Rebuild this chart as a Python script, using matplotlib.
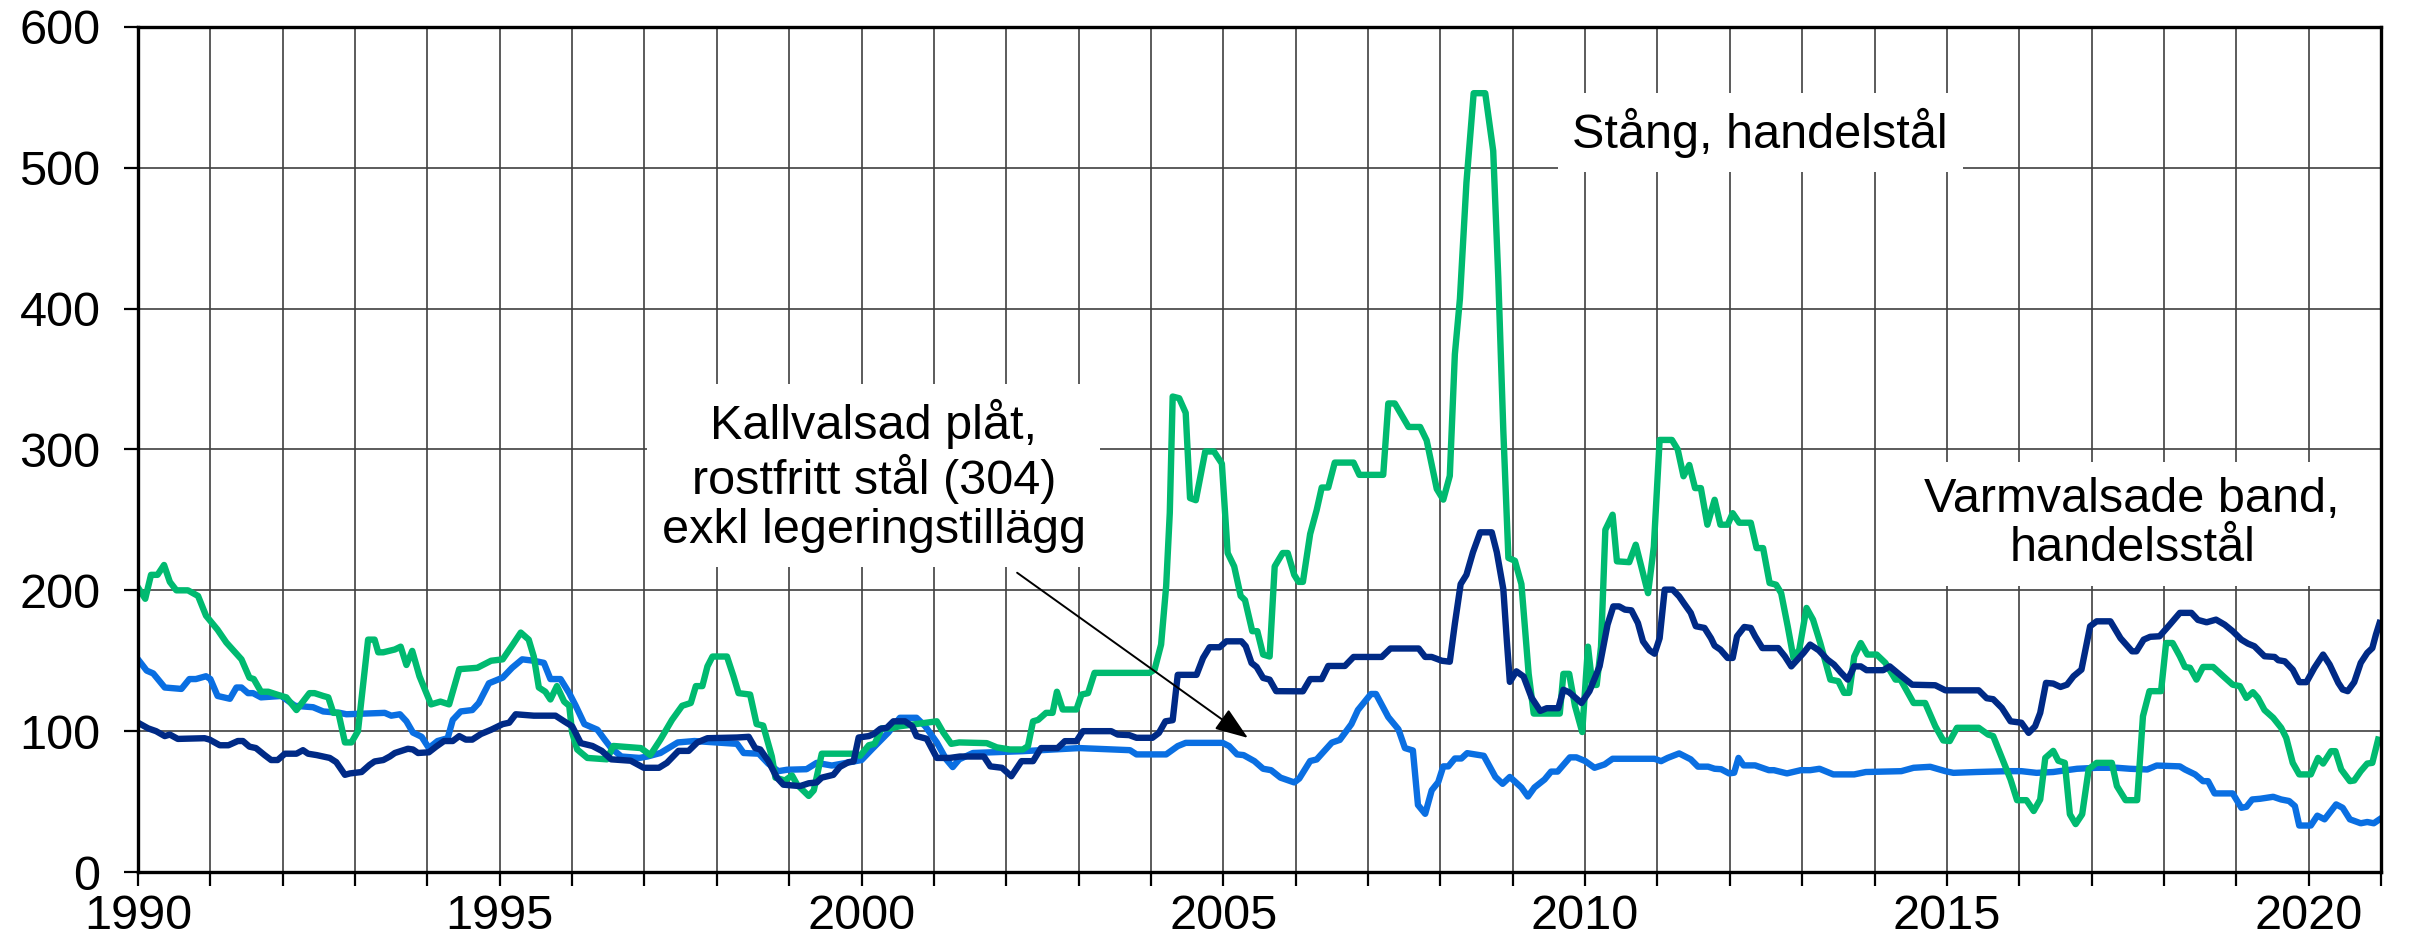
import matplotlib
matplotlib.use("Agg")
import matplotlib.pyplot as plt

plt.rcParams['font.family'] = ['Liberation Sans', 'DejaVu Sans']

# Stång, handelstål
stang_t = [1990.00, 1990.10, 1990.18, 1990.27, 1990.36, 1990.44, 1990.53, 1990.69, 1990.83, 1990.94,
           1991.10, 1991.22, 1991.43, 1991.54, 1991.60, 1991.70, 1991.80, 1991.98, 1992.05, 1992.19,
           1992.37, 1992.44, 1992.56, 1992.63, 1992.70, 1992.77, 1992.86, 1992.95, 1993.04, 1993.18,
           1993.27, 1993.32, 1993.39, 1993.55, 1993.63, 1993.71, 1993.79, 1993.89, 1994.05, 1994.18,
           1994.30, 1994.44, 1994.69, 1994.88, 1995.04, 1995.18, 1995.29, 1995.40, 1995.47, 1995.54,
           1995.63, 1995.70, 1995.79, 1995.89, 1995.96, 1996.00, 1996.07, 1996.21, 1996.48, 1996.57,
           1996.95, 1997.08, 1997.22, 1997.38, 1997.52, 1997.64, 1997.71, 1997.80, 1997.87, 1997.94,
           1998.14, 1998.23, 1998.30, 1998.46, 1998.55, 1998.64, 1998.76, 1998.81, 1998.94, 1999.04,
           1999.11, 1999.27, 1999.34, 1999.45, 1999.89, 1999.98, 2000.10, 2000.18, 2000.28, 2000.40,
           2000.53, 2001.04, 2001.13, 2001.24, 2001.35, 2001.73, 2001.87, 2002.05, 2002.23, 2002.30,
           2002.37, 2002.44, 2002.55, 2002.64, 2002.70, 2002.78, 2002.97, 2003.04, 2003.13, 2003.22,
           2003.98, 2004.05, 2004.14, 2004.21, 2004.26, 2004.30, 2004.39, 2004.48, 2004.54, 2004.62,
           2004.75, 2004.87, 2004.98, 2005.06, 2005.15, 2005.24, 2005.30, 2005.40, 2005.47, 2005.55,
           2005.64, 2005.71, 2005.82, 2005.89, 2005.98, 2006.04, 2006.10, 2006.20, 2006.29, 2006.36,
           2006.45, 2006.54, 2006.80, 2006.88, 2007.21, 2007.28, 2007.37, 2007.56, 2007.72, 2007.81,
           2007.95, 2008.04, 2008.13, 2008.20, 2008.27, 2008.36, 2008.46, 2008.62, 2008.73, 2008.80,
           2008.87, 2008.94, 2009.03, 2009.12, 2009.22, 2009.29, 2009.65, 2009.70, 2009.78, 2009.86,
           2009.96, 2010.04, 2010.10, 2010.16, 2010.22, 2010.28, 2010.38, 2010.44, 2010.61, 2010.70,
           2010.80, 2010.87, 2010.95, 2011.03, 2011.20, 2011.28, 2011.36, 2011.44, 2011.52, 2011.60,
           2011.69, 2011.79, 2011.87, 2011.97, 2012.04, 2012.13, 2012.29, 2012.37, 2012.46, 2012.55,
           2012.64, 2012.71, 2012.80, 2012.88, 2012.96, 2013.06, 2013.15, 2013.25, 2013.39, 2013.50,
           2013.58, 2013.65, 2013.72, 2013.81, 2013.90, 2014.03, 2014.15, 2014.29, 2014.36, 2014.54,
           2014.70, 2014.84, 2014.95, 2015.04, 2015.14, 2015.44, 2015.57, 2015.64, 2015.76, 2015.88,
           2015.97, 2016.10, 2016.20, 2016.29, 2016.36, 2016.47, 2016.54, 2016.63, 2016.70, 2016.78,
           2016.87, 2016.96, 2017.07, 2017.28, 2017.35, 2017.47, 2017.63, 2017.71, 2017.80, 2017.96,
           2018.03, 2018.12, 2018.22, 2018.29, 2018.36, 2018.45, 2018.54, 2018.68, 2018.82, 2018.95,
           2019.05, 2019.14, 2019.23, 2019.30, 2019.39, 2019.51, 2019.62, 2019.69, 2019.78, 2019.87,
           2020.03, 2020.13, 2020.20, 2020.31, 2020.37, 2020.45, 2020.57, 2020.63, 2020.72, 2020.81,
           2020.88, 2020.96]
stang_v = [202, 194, 211, 211, 218, 206, 200, 200, 196, 182,
           172, 163, 151, 138, 137, 128, 128, 125, 124, 115,
           127, 127, 125, 124, 113, 113, 92, 92, 100, 165,
           165, 156, 156, 158, 160, 147, 157, 139, 119, 121,
           119, 144, 145, 150, 151, 161.5, 170, 165, 153, 131,
           128, 122.5, 132, 121, 118, 99, 87, 81, 80, 89.5,
           88, 83, 94, 108, 118, 120, 132, 132, 146, 153,
           153, 139, 127, 126, 105, 104, 82, 67, 65, 68.5,
           62, 54, 58, 84, 84, 82.5, 90, 91, 102, 102,
           103.5, 107, 99, 91, 92, 91.5, 88.5, 87, 87, 89.4,
           107, 108, 113, 113, 128, 115.4, 115.4, 126, 127, 141.4,
           141.4, 143.7, 161.5, 203, 255, 337.6, 336.4, 326, 265.5, 264,
           298.6, 298.6, 290, 226.5, 217, 196, 193, 171, 171, 154.4,
           153, 217, 226.5, 226.5, 211, 206, 206, 240, 257, 273,
           273, 290.7, 290.7, 282, 282, 332.7, 332.7, 316, 316, 306.5,
           272, 264.4, 281.3, 367.6, 407, 489.5, 553, 553, 512, 422,
           313, 223, 221, 204.4, 140.7, 112.5, 112.5, 140.7, 140.7, 118,
           99.4, 160, 132.8, 132.8, 160, 243, 253.7, 220.6, 220, 232.4,
           212.3, 198, 231, 306.8, 306.8, 300, 281, 289, 272.6, 272.6,
           246.6, 264.3, 246.6, 246.6, 254.8, 248, 248, 230, 230, 205.2,
           204, 198, 174.5, 152, 157.9, 187.5, 179.2, 162.6, 136.6, 135.5,
           127.2, 127.2, 153, 162.6, 154.4, 154.4, 148.5, 136.6, 136.6, 120,
           120, 103.5, 93.4, 93, 102.4, 102.4, 97.6, 96.5, 81, 65.7,
           51, 51, 43.3, 51.5, 81, 86, 79, 77.5, 41, 34,
           41, 73, 77.5, 77.5, 61, 51, 51, 110.6, 128.4, 128.4,
           162.6, 162.6, 153.2, 145.6, 145, 136.6, 145.6, 145.6, 139, 133,
           132, 123.6, 127.7, 123.6, 115, 109.5, 102.4, 95.3, 77.5, 69.3,
           69.3, 81, 77, 85.8, 85.8, 72.8, 64.5, 65, 71.6, 77,
           77.5, 94]

# Kallvalsad plåt, rostfritt stål (304) exkl legeringstillägg
kall_t = [1990.00, 1990.12, 1990.21, 1990.37, 1990.60, 1990.71, 1990.80, 1990.94, 1991.00, 1991.10,
          1991.27, 1991.36, 1991.43, 1991.52, 1991.59, 1991.70, 1991.98, 1992.17, 1992.42, 1992.56,
          1992.79, 1992.88, 1993.41, 1993.50, 1993.62, 1993.71, 1993.80, 1993.92, 1994.02, 1994.14,
          1994.28, 1994.35, 1994.46, 1994.62, 1994.71, 1994.85, 1995.04, 1995.17, 1995.31, 1995.47,
          1995.61, 1995.70, 1995.84, 1995.96, 1996.05, 1996.17, 1996.35, 1996.45, 1996.54, 1996.68,
          1996.93, 1997.04, 1997.22, 1997.46, 1997.69, 1998.28, 1998.37, 1998.58, 1998.71, 1998.85,
          1998.97, 1999.24, 1999.38, 1999.59, 1999.84, 2000.00, 2000.14, 2000.37, 2000.53, 2000.76,
          2000.88, 2001.04, 2001.17, 2001.26, 2001.35, 2001.54, 2002.23, 2003.01, 2003.71, 2003.80,
          2004.21, 2004.37, 2004.48, 2004.99, 2005.08, 2005.19, 2005.28, 2005.43, 2005.55, 2005.66,
          2005.79, 2005.98, 2006.05, 2006.20, 2006.29, 2006.50, 2006.61, 2006.77, 2006.86, 2007.04,
          2007.11, 2007.28, 2007.42, 2007.51, 2007.62, 2007.69, 2007.79, 2007.88, 2007.97, 2008.04,
          2008.11, 2008.20, 2008.29, 2008.37, 2008.60, 2008.76, 2008.86, 2008.96, 2009.12, 2009.21,
          2009.30, 2009.44, 2009.53, 2009.62, 2009.79, 2009.88, 2010.00, 2010.13, 2010.27, 2010.38,
          2010.96, 2011.05, 2011.14, 2011.30, 2011.46, 2011.56, 2011.70, 2011.79, 2011.88, 2011.99,
          2012.06, 2012.12, 2012.19, 2012.35, 2012.54, 2012.61, 2012.79, 2012.98, 2013.11, 2013.24,
          2013.43, 2013.72, 2013.88, 2014.37, 2014.54, 2014.77, 2014.98, 2015.09, 2015.41, 2015.83,
          2016.03, 2016.24, 2016.47, 2016.80, 2017.07, 2017.35, 2017.53, 2017.77, 2017.90, 2018.22,
          2018.29, 2018.43, 2018.54, 2018.61, 2018.70, 2018.95, 2019.07, 2019.14, 2019.22, 2019.33,
          2019.51, 2019.62, 2019.73, 2019.81, 2019.87, 2020.03, 2020.12, 2020.22, 2020.38, 2020.47,
          2020.57, 2020.72, 2020.81, 2020.90, 2020.98]
kall_v = [151, 143, 141, 131, 130, 137, 137, 139, 137, 125,
          123, 131, 131, 127, 127, 124, 125, 118, 117, 114,
          113, 112, 113, 111, 112, 107, 99, 96, 88, 93,
          95, 108, 114, 115, 120, 134, 138, 145, 151, 150,
          148.5, 137, 137, 127, 118, 105, 101, 94, 88, 82,
          81, 82, 84.5, 92, 93, 91, 84.5, 84, 77, 71.6,
          72.6, 73, 77.5, 75.6, 78, 79.5, 87, 99, 109.5, 109.5,
          103.5, 92, 80, 74.5, 80, 84.5, 85.8, 88, 86.5, 83.5,
          83.5, 89.4, 91.7, 91.7, 89.4, 83.5, 83, 78.7, 73.3, 72.3,
          67, 63.6, 66.4, 78.8, 79.9, 91.9, 93.8, 105, 115, 126.4,
          126.4, 110, 101.3, 88, 86.3, 47.6, 41.3, 58, 63.8, 75,
          75, 80.6, 80.6, 84.4, 82.5, 67.5, 62.6, 67.5, 60, 53.6,
          60, 65.7, 71.3, 71.3, 81.4, 81.4, 78.8, 74, 76.4, 80.4,
          80.4, 78.7, 81, 84.2, 80, 74.8, 74.8, 73.3, 73, 70,
          70.5, 81, 75.7, 75.7, 72.3, 72.3, 70, 72.3, 72.3, 73.3,
          69.3, 69.3, 71, 71.6, 74, 74.7, 71.6, 70.4, 71, 71.6,
          71.6, 70.4, 71, 73.3, 74, 74, 73.3, 72.8, 75.6, 75,
          72.8, 69.3, 64.5, 64.5, 55.8, 55.8, 45.6, 46.3, 51.5, 52,
          53.4, 51.5, 50.4, 46.8, 33, 33, 40, 37.4, 48, 45.6,
          37.4, 34.6, 35.5, 34.6, 37.4]

# Varmvalsade band, handelsstål
varm_t = [1990.00, 1990.14, 1990.25, 1990.37, 1990.44, 1990.55, 1990.92, 1990.99, 1991.13, 1991.25,
          1991.38, 1991.45, 1991.54, 1991.63, 1991.75, 1991.84, 1991.93, 1992.03, 1992.19, 1992.28,
          1992.35, 1992.47, 1992.56, 1992.65, 1992.74, 1992.86, 1992.93, 1993.09, 1993.20, 1993.27,
          1993.39, 1993.48, 1993.55, 1993.73, 1993.80, 1993.87, 1994.02, 1994.12, 1994.23, 1994.35,
          1994.44, 1994.53, 1994.62, 1994.74, 1994.88, 1995.04, 1995.13, 1995.22, 1995.47, 1995.77,
          1995.89, 1996.00, 1996.12, 1996.28, 1996.41, 1996.54, 1996.81, 1996.99, 1997.20, 1997.31,
          1997.47, 1997.61, 1997.73, 1997.87, 1998.28, 1998.44, 1998.53, 1998.60, 1998.71, 1998.83,
          1998.92, 1999.15, 1999.27, 1999.38, 1999.45, 1999.61, 1999.70, 1999.82, 1999.89, 1999.96,
          2000.10, 2000.17, 2000.26, 2000.35, 2000.44, 2000.60, 2000.70, 2000.76, 2000.90, 2001.04,
          2001.22, 2001.36, 2001.69, 2001.78, 2001.94, 2002.07, 2002.21, 2002.37, 2002.48, 2002.71,
          2002.81, 2002.97, 2003.06, 2003.45, 2003.54, 2003.70, 2003.80, 2004.02, 2004.11, 2004.20,
          2004.30, 2004.37, 2004.63, 2004.72, 2004.81, 2004.95, 2005.04, 2005.25, 2005.31, 2005.39,
          2005.46, 2005.55, 2005.64, 2005.73, 2006.10, 2006.20, 2006.36, 2006.45, 2006.68, 2006.80,
          2007.19, 2007.31, 2007.70, 2007.79, 2007.88, 2008.02, 2008.13, 2008.20, 2008.28, 2008.36,
          2008.45, 2008.55, 2008.71, 2008.78, 2008.87, 2008.92, 2008.96, 2009.05, 2009.15, 2009.26,
          2009.38, 2009.47, 2009.63, 2009.70, 2009.78, 2009.95, 2010.06, 2010.20, 2010.31, 2010.39,
          2010.47, 2010.55, 2010.64, 2010.73, 2010.80, 2010.89, 2010.96, 2011.03, 2011.10, 2011.21,
          2011.30, 2011.37, 2011.46, 2011.53, 2011.65, 2011.74, 2011.79, 2011.87, 2011.97, 2012.04,
          2012.10, 2012.20, 2012.29, 2012.35, 2012.45, 2012.67, 2012.76, 2012.85, 2013.02, 2013.11,
          2013.23, 2013.35, 2013.44, 2013.54, 2013.63, 2013.72, 2013.81, 2013.89, 2014.12, 2014.21,
          2014.35, 2014.52, 2014.84, 2014.98, 2015.44, 2015.55, 2015.64, 2015.76, 2015.88, 2016.03,
          2016.13, 2016.22, 2016.29, 2016.37, 2016.47, 2016.57, 2016.66, 2016.75, 2016.86, 2016.98,
          2017.07, 2017.26, 2017.40, 2017.56, 2017.62, 2017.72, 2017.81, 2017.94, 2018.08, 2018.22,
          2018.38, 2018.47, 2018.59, 2018.72, 2018.84, 2018.95, 2019.07, 2019.16, 2019.25, 2019.39,
          2019.53, 2019.58, 2019.67, 2019.78, 2019.87, 2019.97, 2020.08, 2020.20, 2020.29, 2020.41,
          2020.47, 2020.54, 2020.63, 2020.72, 2020.81, 2020.88, 2020.93, 2020.98]
varm_v = [106, 102, 100, 96.5, 97.6, 94.5, 95, 94, 90, 90,
          93, 93, 89, 88, 83, 79.5, 79.5, 84, 84, 86.5,
          84, 83, 82, 81, 78, 69, 70, 71, 76, 78.5,
          79.5, 82, 84.5, 87.5, 87, 84.5, 85, 89, 93, 93,
          96.5, 94, 94, 98, 101, 105, 106, 112, 111, 111,
          107, 103.5, 91.5, 89.5, 86, 80, 79, 74, 74, 77.5,
          86, 86, 92, 95, 95.5, 96, 88, 87, 79, 67,
          62, 61, 63, 63.6, 67, 69, 74.6, 78, 78.5, 95.5,
          96.5, 98, 101.7, 102.4, 107, 107, 103.5, 96.5, 94.6, 81,
          81, 82, 82, 75, 74, 68, 78.7, 78.7, 88, 88,
          92.9, 92.9, 100, 100, 97.6, 97.2, 95.3, 95.3, 98.8, 107,
          107.8, 140, 140, 152, 159.6, 159.6, 163.8, 163.8, 160.3, 148.4,
          145.6, 137.8, 136.6, 128.4, 128.3, 137, 137, 146.3, 146.3, 152.7,
          152.7, 158.7, 158.7, 152.7, 152.7, 150, 149.3, 176.3, 204.4, 211,
          227, 241.2, 241.2, 227, 200.7, 163, 135, 142.5, 138.8, 123.8,
          114.4, 116.3, 116.3, 129.4, 127.6, 120, 128.4, 146, 175.6, 188.6,
          188.6, 186.3, 185.8, 176.8, 163.8, 157.4, 155, 166, 200.5, 200.5,
          195.7, 190.5, 184, 174.5, 173.3, 166, 160.7, 157.9, 152, 152,
          167.4, 174, 173.3, 167.4, 159, 159, 153.2, 146, 155.6, 161.5,
          157.4, 150.8, 147.3, 141.4, 136.6, 146, 146, 143.3, 143.3, 146,
          140, 133, 132.6, 129, 129, 123.4, 122.7, 116.5, 107, 106,
          98.8, 103.5, 113, 134.3, 133.8, 131.4, 133, 139, 143.7, 174.5,
          178, 178, 166, 156.7, 156.7, 165, 167, 167.4, 175.6, 184,
          184, 179, 177.3, 179.2, 175.6, 171, 165, 162.2, 160.3, 153.2,
          152.7, 150.4, 149.6, 143.7, 134.8, 134.8, 145, 154.4, 147.3, 134.3,
          129.6, 128.4, 134.8, 148.5, 155.6, 159, 168.6, 176.8]

major_years = list(range(1990, 2021, 5))
all_years = list(range(1990, 2022))
y_ticks = [0, 100, 200, 300, 400, 500, 600]

fig = plt.figure(figsize=(24.11, 9.40), dpi=100)
ax = fig.add_axes([138 / 2411, 68 / 940, 2243 / 2411, 845 / 940])

ax.plot(kall_t, kall_v, color='#0A6FE2', lw=4.6, zorder=2)
ax.plot(stang_t, stang_v, color='#00BA70', lw=4.6, zorder=2.1)
ax.plot(varm_t, varm_v, color='#002A86', lw=4.6, zorder=2.2)

ax.set_xlim(1990, 2021)
ax.set_ylim(0, 600)
ax.set_xticks(major_years)
ax.set_xticks(all_years, minor=True)
ax.set_yticks(y_ticks)
ax.set_axisbelow(True)
ax.grid(axis='x', which='both', color='#404040', lw=1.2)
ax.grid(axis='y', which='major', color='#404040', lw=1.2)

ax.tick_params(axis='both', which='both', direction='out', length=10, width=1.6,
               labelsize=35, color='black')
ax.tick_params(axis='y', pad=17)
ax.tick_params(axis='x', pad=6)
for sp in ax.spines.values():
    sp.set_linewidth(2.4)
    sp.set_color('black')

box = dict(boxstyle='square,pad=0.3', fc='white', ec='none')
ax.text(2012.42, 525, 'Stång, handelstål', ha='center', va='center',
        fontsize=35, bbox=box, zorder=4)
ax.text(2017.56, 247, 'Varmvalsade band,\nhandelsstål', ha='center', va='center',
        fontsize=35, bbox=box, zorder=4, linespacing=1.12)
ax.text(2000.17, 281.5, 'Kallvalsad plåt,\nrostfritt stål (304)\nexkl legeringstillägg',
        ha='center', va='center', fontsize=35, bbox=box, zorder=4, linespacing=1.12)

ax.annotate('', xy=(2005.34, 95.2), xytext=(2002.15, 212.5),
            arrowprops=dict(arrowstyle='-|>,head_length=0.6,head_width=0.22',
                            mutation_scale=34, color='black', lw=1.4,
                            shrinkA=0, shrinkB=0), zorder=4)

fig.savefig('out.png', dpi=100)
